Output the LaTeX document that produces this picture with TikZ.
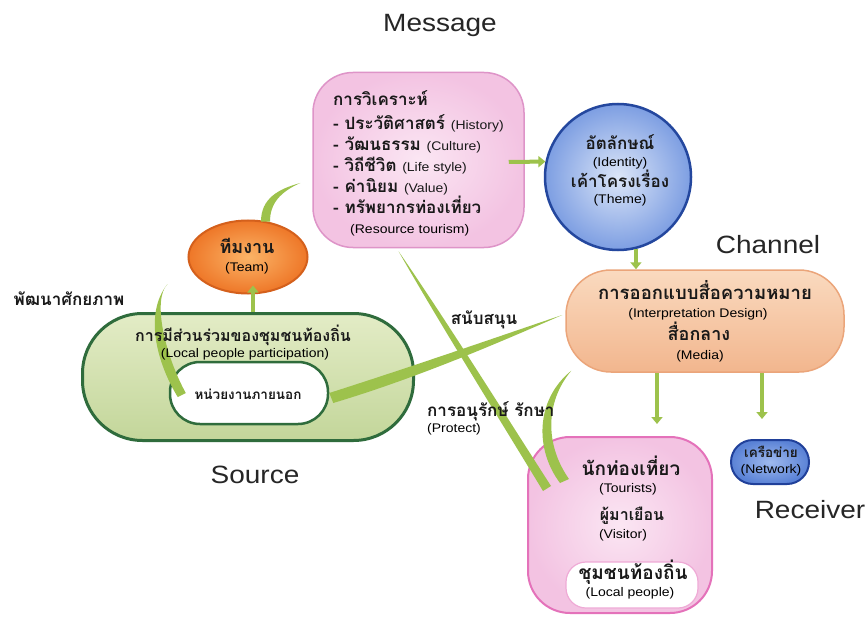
\documentclass[tikz,border=0pt]{standalone}
\usepackage{fontspec}
\setmainfont{Liberation Sans}
\newfontfamily\labelfont[FakeStretch=1.12]{Liberation Sans}
\newfontfamily\engfont[FakeStretch=1.12]{Liberation Sans}
\newfontfamily\thaifont[Script=Thai]{Loma}
\usetikzlibrary{arrows.meta,calc,shapes.geometric}

\definecolor{leafgreen}{HTML}{9DC24C}
\definecolor{msgfill}{HTML}{F3C3E2}
\definecolor{msgin}{HTML}{FBE6F3}
\definecolor{msgline}{HTML}{DE94C8}
\definecolor{tourline}{HTML}{E472BA}
\definecolor{idin}{HTML}{DCE6F8}
\definecolor{idout}{HTML}{7D9EE2}
\definecolor{idline}{HTML}{24479E}
\definecolor{chtop}{HTML}{FADABF}
\definecolor{chbot}{HTML}{F2B68E}
\definecolor{chline}{HTML}{EBA57A}
\definecolor{teamin}{HTML}{FBB467}
\definecolor{teamout}{HTML}{EE7728}
\definecolor{teamline}{HTML}{D4601C}
\definecolor{srcin}{HTML}{E3ECC6}
\definecolor{srcout}{HTML}{C3D69A}
\definecolor{srcline}{HTML}{2F6C3C}
\definecolor{netin}{HTML}{9FBAEE}
\definecolor{netout}{HTML}{5A82D6}
\definecolor{netline}{HTML}{20409A}

\newcommand\entext[1]{{\engfont\mdseries\fontsize{12.5}{14}\selectfont #1}}
\newcommand\thsize[1]{\thaifont\bfseries\fontsize{#1}{#1}\selectfont}

\begin{document}
\begin{tikzpicture}[x=1pt,y=-1pt,
  title/.style={font=\labelfont\fontsize{25}{28}\selectfont, text=black!85, inner sep=0, anchor=base},
  th/.style={font=\thsize{17}, inner sep=0, text=black!90, anchor=mid},
  en/.style={font=\engfont\fontsize{12.5}{14}\selectfont, inner sep=0, anchor=mid},
  flow/.style={draw=leafgreen, line width=4pt, -{Triangle[length=7pt,width=11pt]}},
  leaf/.style={fill=leafgreen, draw=none},
]
\useasboundingbox (0,0) rectangle (867,631);
\fill[white] (0,0) rectangle (867,631);

% ---- shapes ----
\node[draw=msgline, line width=1.5pt, rounded corners=40pt, minimum width=211pt,
      minimum height=175pt, inner color=msgin, outer color=msgfill] (msg) at (418.5,160) {};
\node[circle, draw=idline, line width=2.5pt, minimum size=146pt,
      inner color=idin, outer color=idout] (ident) at (618,177) {};
\node[draw=chline, line width=1.5pt, rounded corners=45pt, minimum width=278pt,
      minimum height=102pt, top color=chtop, bottom color=chbot] (chan) at (705,321) {};
\node[ellipse, draw=teamline, line width=2pt, minimum width=119pt, minimum height=73pt,
      inner color=teamin, outer color=teamout] (team) at (248,257) {};
\node[draw=srcline, line width=3pt, rounded corners=60pt, minimum width=331pt,
      minimum height=127pt, top color=srcin, bottom color=srcout] (src) at (248,377) {};
\node[draw=srcline, line width=2.5pt, fill=white, rounded corners=30pt,
      minimum width=158pt, minimum height=62pt] (inner) at (249,393) {};
\node[draw=tourline, line width=2pt, rounded corners=42pt, minimum width=184pt,
      minimum height=176pt, inner color=msgin, outer color=msgfill] (tour) at (620,525) {};
\node[draw=tourline!60, line width=1.2pt, fill=white, rounded corners=20pt,
      minimum width=132pt, minimum height=46pt] (local) at (632,585) {};
\node[draw=netline, line width=2pt, rounded corners=22pt, minimum width=78pt,
      minimum height=44pt, inner color=netin, outer color=netout] (net) at (770,462) {};

% ---- straight arrows ----
\draw[flow] ($(msg.east)+(-16,2)$) -- (ident.168);
\draw[flow] (ident.-76) -- (ident.-76 |- chan.north);
\coordinate (c2t) at ($(chan.south)+(-48,0)$);
\draw[flow, shorten >=12pt] (c2t) -- (c2t |- tour.north);
\coordinate (c2n) at ($(chan.south)+(57,0)$);
\draw[flow, shorten >=20pt] (c2n) -- (c2n |- net.north);
\coordinate (s2t) at ($(src.north)+(5,0)$);
\draw[flow, shorten >=-9pt] (s2t) -- (s2t |- team.south);

% ---- tapered strokes ----
% team -> analysis box
\coordinate (tmTip) at ($(msg.west)+(-12,23)$);
\fill[leaf] ($(team.north)+(13,2)$) .. controls +(0,-23) and +(-22,6) .. (tmTip)
  .. controls +(-20,9) and +(0,-18) .. ($(team.north)+(22,2)$) -- cycle;
% outside agencies -> team (capacity building)
\coordinate (devTip) at ($(team.west)+(-20,27)$);
\fill[leaf] ($(inner.west)+(9,4)$) .. controls (158,365) and (143,315) .. (devTip)
  .. controls (152,300) and (165,355) .. ($(inner.west)+(17,0)$) -- cycle;
% outside agencies -> channel (support)
\coordinate (supTip) at ($(chan.west)+(-3,-6)$);
\fill[leaf] ($(inner.east)+(0,0)$) .. controls (420,364) and (500,336) .. (supTip)
  .. controls (500,342) and (420,377) .. ($(inner.east)+(4,10)$) -- cycle;
% visitors -> analysis box (protect)
\coordinate (protTip) at ($(msg.south)+(-20,3)$);
\fill[leaf] ($(tour.north west)+(16,55)$) .. controls (500,420) and (440,324) .. (protTip)
  .. controls (446,320) and (506,416) .. ($(tour.north west)+(24,50)$) -- cycle;
% visitors -> channel (protect)
\coordinate (prot2Tip) at ($(chan.south west)+(6,-2)$);
\fill[leaf] ($(tour.north west)+(33,47)$) .. controls (535,450) and (535,400) .. (prot2Tip)
  .. controls (545,402) and (545,445) .. ($(tour.north west)+(42,43)$) -- cycle;

% ---- titles ----
\node[title] (tMsg) at (440,32) {Message};
\node[title] (tCh) at (768,253) {Channel};
\node[title] (tSrc) at (255,483) {Source};
\node[title] (tRx) at (810,518) {Receiver};

% ---- analysis box text ----
\node[th, anchor=mid west] (m1) at (333,103) {การวิเคราะห์};
\node[th, anchor=mid west] (m2) at (333,127) {- ประวัติศาสตร์ \entext{(History)}};
\node[th, anchor=mid west] (m3) at (333,148) {- วัฒนธรรม \entext{(Culture)}};
\node[th, anchor=mid west] (m4) at (333,169) {- วิถีชีวิต \entext{(Life style)}};
\node[th, anchor=mid west] (m5) at (333,190) {- ค่านิยม \entext{(Value)}};
\node[th, anchor=mid west] (m6) at (333,211) {- ทรัพยากรท่องเที่ยว};
\node[en, anchor=mid west] (m7) at (350,231) {(Resource tourism)};

% ---- identity ----
\node[th] (i1) at (620,147) {อัตลักษณ์};
\node[en] (i2) at (620,164) {(Identity)};
\node[th] (i3) at (620,185) {เค้าโครงเรื่อง};
\node[en] (i4) at (620,201) {(Theme)};

% ---- channel ----
\node[th, font=\thsize{18.5}] (ch1) at (705,297) {การออกแบบสื่อความหมาย};
\node[en] (ch2) at (698,315) {(Interpretation Design)};
\node[th, font=\thsize{18}] (ch3) at (699,338) {สื่อกลาง};
\node[en] (ch4) at (700,357) {(Media)};

% ---- team ----
\node[th, font=\thsize{18}] (tm1) at (247,251) {ทีมงาน};
\node[en] (tm2) at (247,269) {(Team)};

% ---- source ----
\node[th, font=\thsize{16}] (s1) at (243,339) {การมีส่วนร่วมของชุมชนท้องถิ่น};
\node[en] (s2) at (245,355) {(Local people participation)};
\node[th, font=\thsize{13.5}] (s3) at (248,397) {หน่วยงานภายนอก};

% ---- connector labels ----
\node[th] (l1) at (69,303) {พัฒนาศักยภาพ};
\node[th] (l2) at (484,322) {สนับสนุน};
\node[th, anchor=mid west] (l3) at (427,414) {การอนุรักษ์ รักษา};
\node[en, anchor=mid west] (l4) at (427,430) {(Protect)};

% ---- receivers ----
\node[th, font=\thsize{19}] (r1) at (631,473) {นักท่องเที่ยว};
\node[en] (r2) at (628,490) {(Tourists)};
\node[th, font=\thsize{16}] (r3) at (632,518) {ผู้มาเยือน};
\node[en] (r4) at (623,536) {(Visitor)};
\node[th, font=\thsize{19}] (r5) at (633,577) {ชุมชนท้องถิ่น};
\node[en] (r6) at (630,594) {(Local people)};
\node[th, font=\thsize{13.5}] (n1) at (771,455) {เครือข่าย};
\node[en] (n2) at (771,471) {(Network)};
\end{tikzpicture}
\end{document}
